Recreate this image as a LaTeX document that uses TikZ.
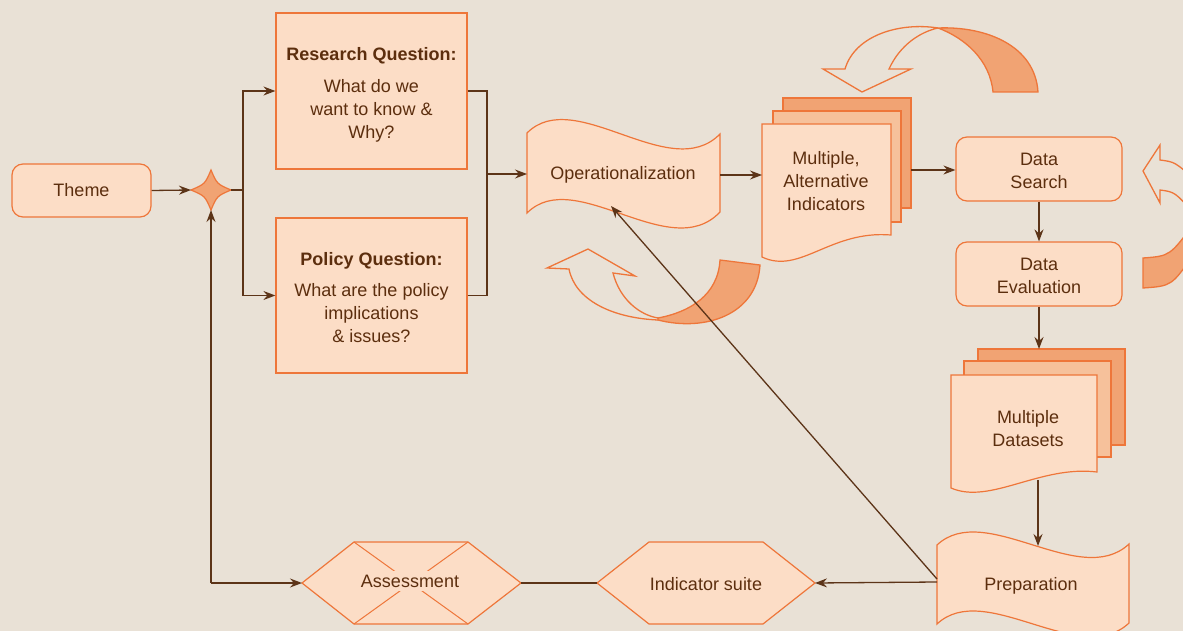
\documentclass[tikz,border=0pt]{standalone}
\usepackage{fontspec}
\setmainfont{Liberation Sans}
\usetikzlibrary{arrows.meta}
\definecolor{paper}{RGB}{233,225,214}
\definecolor{peach}{RGB}{252,221,198}
\definecolor{rust}{RGB}{238,118,58}
\definecolor{tanfill}{RGB}{241,163,115}
\definecolor{apricot}{RGB}{246,193,155}
\definecolor{ink}{RGB}{92,46,14}
\definecolor{wire}{RGB}{92,52,24}
\begin{document}
\begin{tikzpicture}[x=1pt,y=-1pt,
  every node/.style={text=ink, font=\fontsize{18}{23}\selectfont, align=center},
  outlined/.style={draw=rust, line width=1.2pt, line join=miter},
  flowbox/.style={outlined, fill=peach, inner sep=0pt},
  roundbox/.style={flowbox, rounded corners=11pt},
  txt/.style={inner sep=0pt},
  wireline/.style={draw=wire, line width=1.3pt},
  wirearrow/.style={wireline, -{Stealth[length=12pt,width=9pt,inset=4pt]}},
  ribbon/.style={draw=rust, line width=1.3pt, line join=miter},
]
\useasboundingbox (0,0) rectangle (1183,631);
\fill[paper] (0,0) rectangle (1183,631);

\begin{scope}
\clip (0,0) rectangle (1183,631);

% ---- curved ribbon arrows ----
% above the indicator stack
\filldraw[ribbon, fill=tanfill] (938,28) .. controls (985,26) and (1035,45) .. (1038,92)
  -- (993,92) .. controls (990,60) and (965,38) .. (938,28) -- cycle;
\draw[ribbon] (938,28) .. controls (900,22) and (855,35) .. (845,69) -- (823,69)
  -- (862,92) -- (911,69) -- (889,69) .. controls (900,45) and (920,32) .. (938,28);
% below operationalization
\filldraw[ribbon, fill=tanfill] (658,318) .. controls (690,312) and (718,295) .. (720,260)
  -- (760,265) .. controls (757,315) and (705,332) .. (658,320) -- cycle;
\draw[ribbon] (658,320) .. controls (612,318) and (575,300) .. (569,269) -- (547,268)
  -- (588,249) -- (635,276) -- (613,273) .. controls (620,300) and (640,315) .. (658,318);
% right of the data boxes
\filldraw[ribbon, fill=tanfill] (1143,258) -- (1143,288) .. controls (1172,286) .. (1195,252)
  -- (1195,222) .. controls (1170,256) .. (1143,258) -- cycle;
\draw[ribbon] (1195,180) .. controls (1175,162) .. (1160,160) -- (1160,145) -- (1143,171)
  -- (1160,203) -- (1160,190) .. controls (1175,192) .. (1195,215);

% ---- nodes ----
\node[roundbox, minimum width=139pt, minimum height=53pt] (theme) at (81.5,190.5) {Theme};

% four-point hub
\filldraw[outlined, fill=tanfill] (211,170) .. controls (217,184) .. (231,190)
  .. controls (217,196) .. (211,210) .. controls (205,196) .. (191,190)
  .. controls (205,184) .. (211,170) -- cycle;
\coordinate (hub) at (211,190);
\coordinate (hubW) at (191,190);
\coordinate (hubE) at (231,190);
\coordinate (hubS) at (211,210);

\node[flowbox, minimum width=191pt, minimum height=156pt] (research) at (371.5,91) {};
\node[txt] (researchtext) at (371.5,95)
  {\textbf{Research Question:}\\[9pt]What do we\\want to know \&\\Why?};
\node[flowbox, minimum width=191pt, minimum height=155pt] (policy) at (371.5,295.5) {};
\node[txt] (policytext) at (371.5,297.5)
  {\textbf{Policy Question:}\\[8pt]What are the policy\\implications\\\& issues?};

% operationalization (tape)
\filldraw[outlined, fill=peach] (527,133) .. controls (575,85) and (670,185) .. (720,134)
  -- (720,212) .. controls (670,265) and (575,165) .. (527,213) -- cycle;
\node[txt] (oper) at (623,175) {Operationalization};
\coordinate (operW) at (527,174);
\coordinate (operE) at (720,175);
\coordinate (operS) at (611,206);

% stack of indicator sheets
\filldraw[outlined, fill=tanfill] (783,98) rectangle (911,208);
\filldraw[outlined, fill=apricot] (773,111) rectangle (901,222);
\filldraw[outlined, fill=peach] (762,124) -- (891,124) -- (891,235)
  .. controls (830,230) and (800,275) .. (762,257) -- cycle;
\node[txt] (indic) at (826,181) {Multiple,\\Alternative\\Indicators};
\coordinate (indicW) at (762,175);
\coordinate (indicE) at (911,170);

\node[roundbox, minimum width=166pt, minimum height=64pt] (search) at (1039,169) {};
\node[txt] (searchtext) at (1039,171) {Data\\Search};
\node[roundbox, minimum width=166pt, minimum height=64pt] (evaluation) at (1039,274) {};
\node[txt] (evaluationtext) at (1039,276) {Data\\Evaluation};

% stack of datasets
\filldraw[outlined, fill=tanfill] (978,349) rectangle (1125,445);
\filldraw[outlined, fill=apricot] (964,361) rectangle (1111,457);
\filldraw[outlined, fill=peach] (951,375) -- (1097,375) -- (1097,472)
  .. controls (1040,465) and (990,505) .. (951,488) -- cycle;
\node[txt] (datasets) at (1028,429) {Multiple\\Datasets};
\coordinate (dsN) at (1039,349);
\coordinate (dsS) at (1038,480);

% preparation (tape)
\filldraw[outlined, fill=peach] (937,545) .. controls (985,500) and (1080,590) .. (1129,544)
  -- (1129,623) .. controls (1080,669) and (985,579) .. (937,624) -- cycle;
\node[txt] (prep) at (1031,586) {Preparation};
\coordinate (prepN) at (1038,546);
\coordinate (prepW) at (937,582);
\coordinate (prepNW) at (937,579);

% indicator suite (hexagon)
\filldraw[outlined, fill=peach] (597,583) -- (649,542) -- (763,542) -- (815,583)
  -- (763,624) -- (649,624) -- cycle;
\node[txt] (suite) at (706,584) {Indicator suite};
\coordinate (suiteW) at (597,583);
\coordinate (suiteE) at (815,583);

% assessment (crossed hexagon)
\filldraw[outlined, fill=peach] (302,583) -- (354,542) -- (468,542) -- (521,583)
  -- (468,624) -- (354,624) -- cycle;
\draw[rust, line width=1pt] (354,542) -- (468,624) (468,542) -- (354,624);
\node[txt, fill=peach, inner sep=4pt] (assess) at (410,581) {Assessment};
\coordinate (assessW) at (302,583);
\coordinate (assessE) at (521,583);

% ---- connectors ----
\coordinate (split) at (243,190);
\coordinate (join) at (487,174);
\coordinate (corner) at (211,583);

\draw[wirearrow] (theme.east) -- (hubW);
\draw[wireline] (hubE) -- (split);
\draw[wirearrow] (split) |- (research.west);
\draw[wirearrow] (split) |- (policy.west);
\draw[wireline] (research.east) -| (join);
\draw[wireline] (policy.east) -| (join);
\draw[wirearrow] (join) -- (operW);
\draw[wirearrow] (operE) -- (indicW);
\draw[wirearrow] (indicE) -- (indicE -| search.west);
\draw[wirearrow] (search.south) -- (evaluation.north);
\draw[wirearrow] (evaluation.south) -- (dsN);
\draw[wirearrow] (dsS) -- (prepN);
\draw[wirearrow] (prepNW) -- (operS);
\draw[wirearrow] (prepW) -- (suiteE);
\draw[wireline] (suiteW) -- (assessE);
\draw[wirearrow] (corner) -- (assessW);
\draw[wirearrow] (corner) -- (hubS);
\end{scope}
\end{tikzpicture}
\end{document}
